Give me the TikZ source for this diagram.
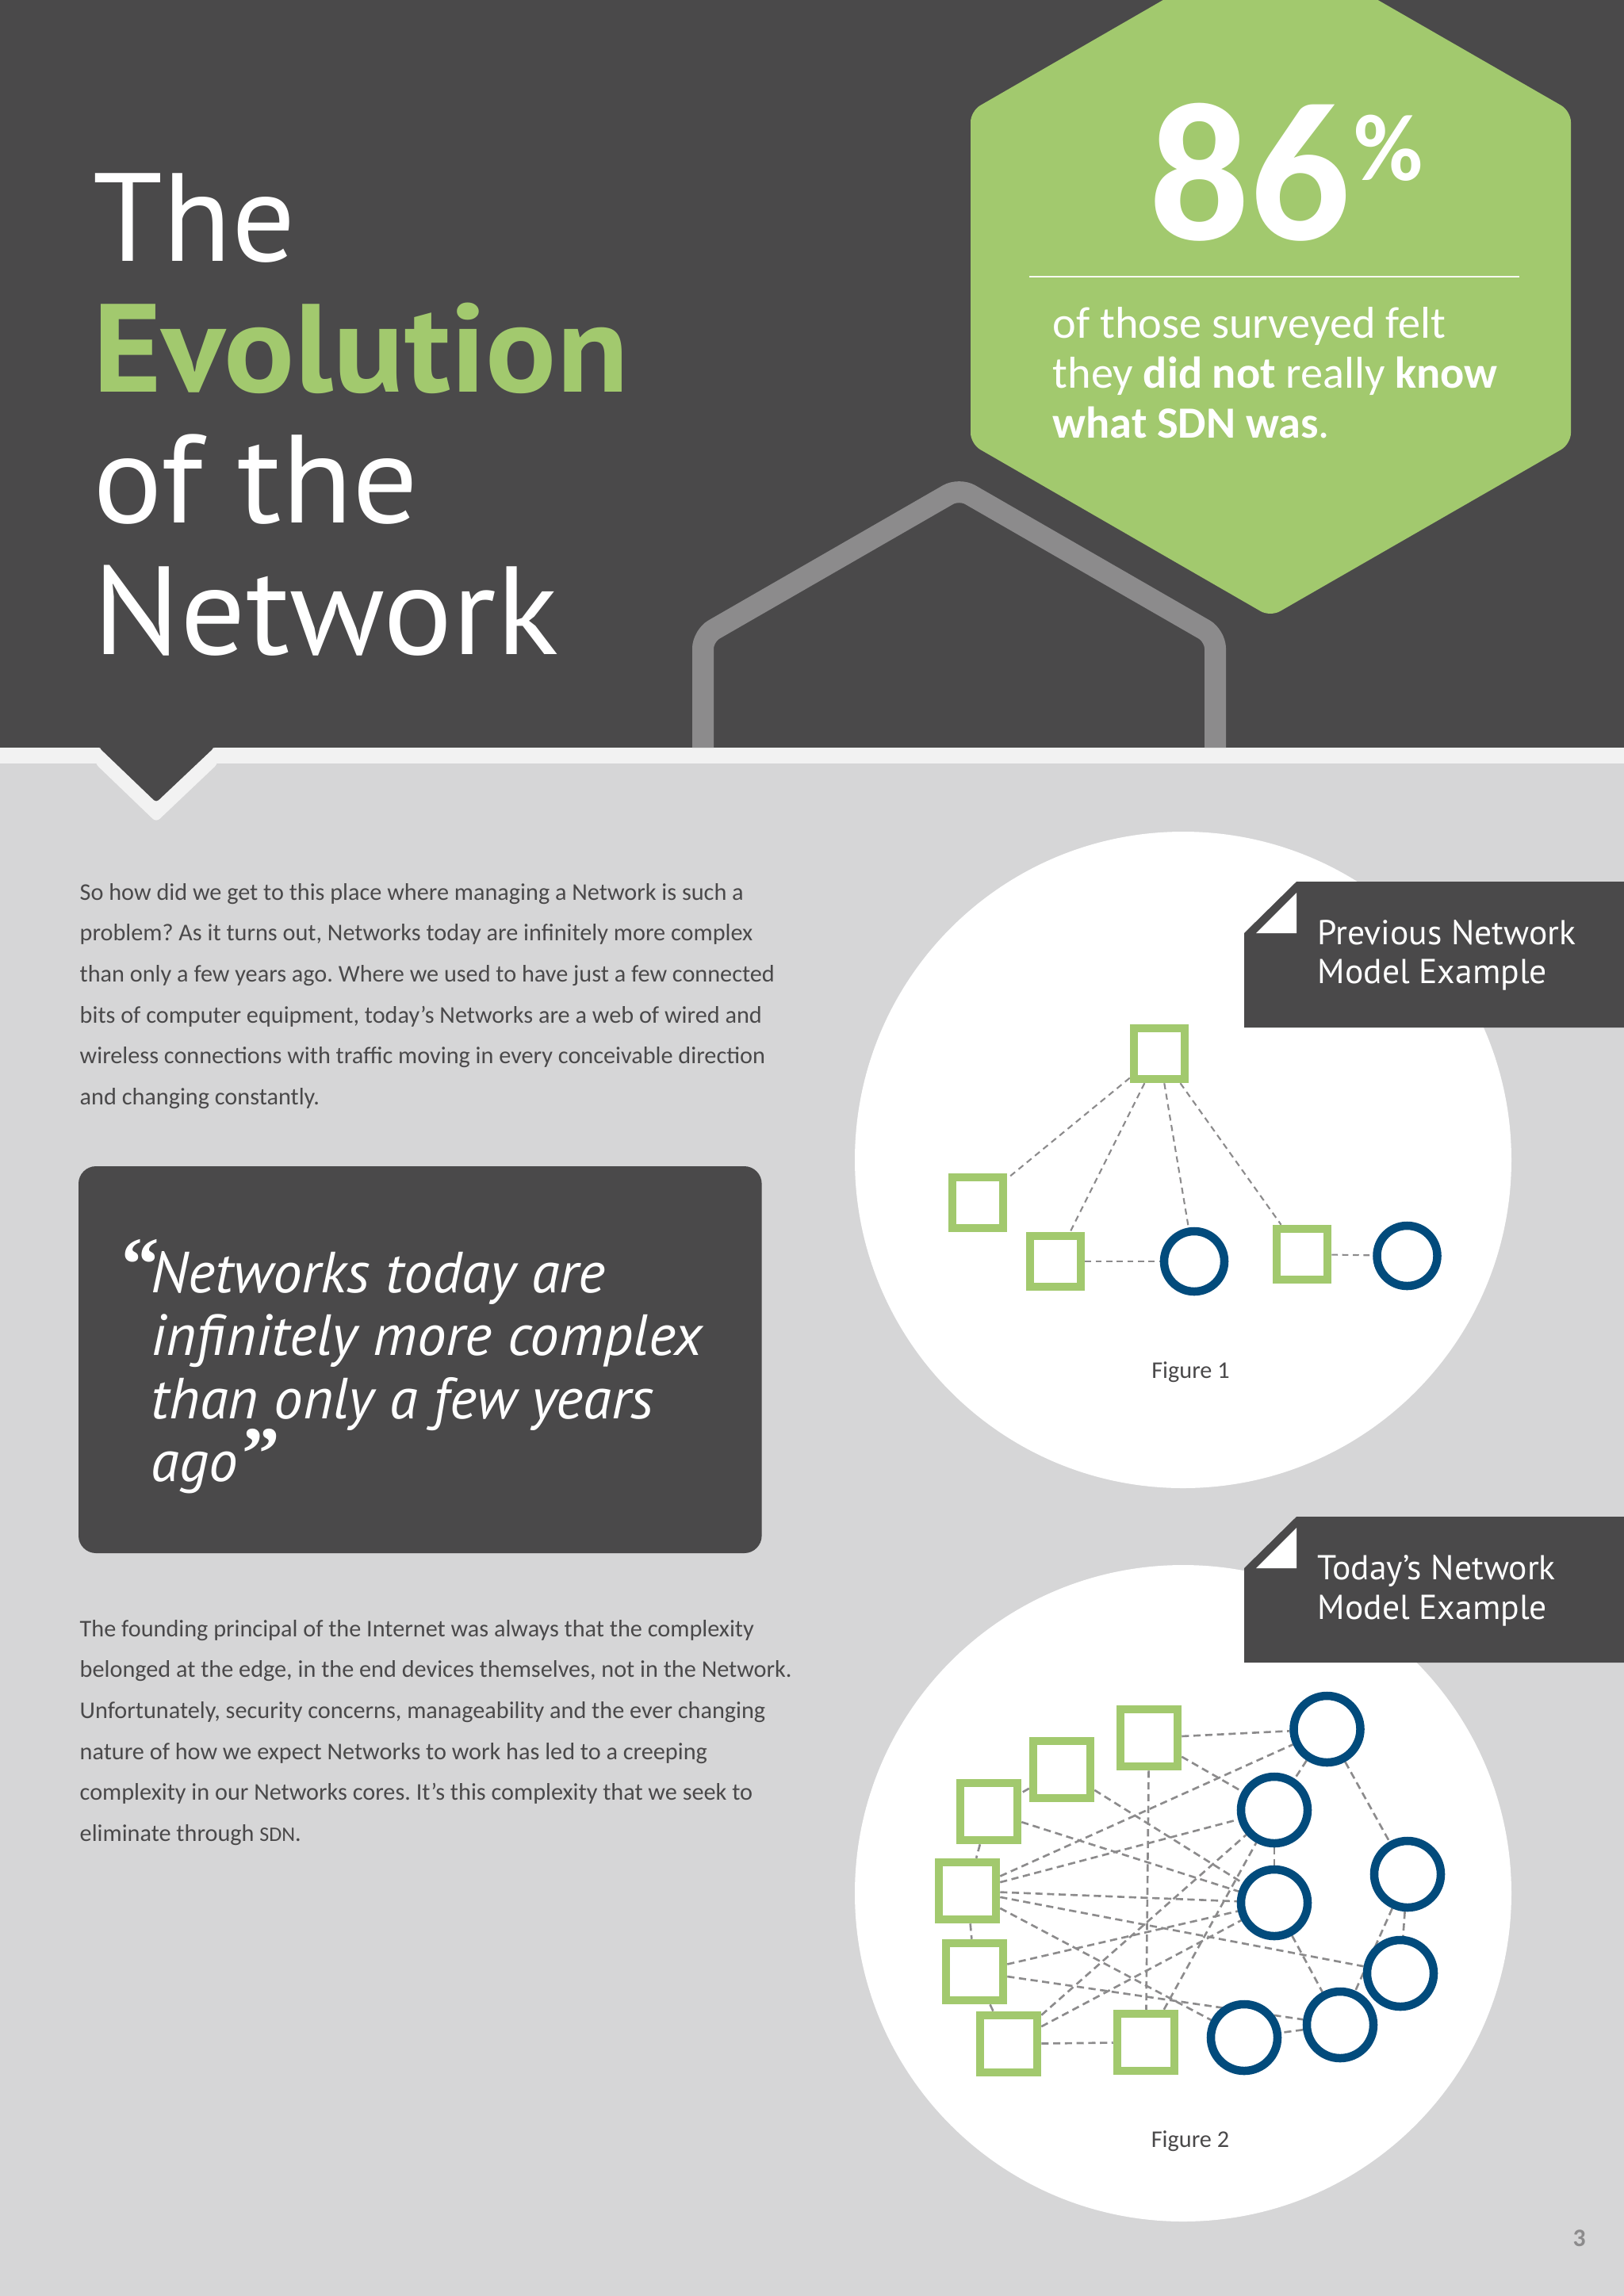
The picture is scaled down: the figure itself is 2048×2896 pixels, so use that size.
\documentclass[tikz,border=0pt]{standalone}
\usepackage{fontspec}
\setmainfont{Carlito}
\newfontfamily\ptsans{PT Sans}
\newfontfamily\quotefont{Liberation Serif}
\pgfdeclarelayer{nodes}
\pgfsetlayers{main,nodes}
\definecolor{slate}{HTML}{4A494A}
\definecolor{leaf}{HTML}{A2C96E}
\definecolor{navy}{HTML}{024B7C}
\definecolor{ash}{HTML}{8C8B8C}
\definecolor{pagebg}{HTML}{D6D6D7}
\definecolor{strip}{HTML}{F2F2F2}
\tikzset{
  txt/.style={inner sep=0pt, align=left, anchor=base west},
  para/.style={txt, text=slate, font=\frenchspacing\fontsize{8.6}{14.7}\selectfont},
  tagtxt/.style={txt, text=white, font=\ptsans\fontsize{12.4}{14.1}\selectfont},
  figtxt/.style={inner sep=0pt, anchor=base, text=slate, font=\fontsize{8.6}{10}\selectfont},
  sq/.style={draw=leaf, fill=white, rectangle, inner sep=0pt},
  sqa/.style={sq, line width=.105cm, minimum size=.64cm},
  sqb/.style={sq, line width=.105cm, minimum size=.72cm},
  circa/.style={draw=navy, fill=white, circle, inner sep=0pt, line width=.105cm, minimum size=.76cm},
  circb/.style={draw=navy, fill=white, circle, inner sep=0pt, line width=.105cm, minimum size=.84cm},
  wire/.style={draw=ash, line width=.6pt, dash pattern=on 2.2pt off 1.6pt},
  wireb/.style={draw=ash, line width=.75pt, dash pattern=on 2.6pt off 1.6pt}
}

\begin{document}
\begin{tikzpicture}[x=.01cm, y=-.01cm]
  \useasboundingbox (0,0) rectangle (2048,2896);
  % Page and header band
  \fill[pagebg] (0,0) rectangle (2048,2896);
  \fill[strip] (0,943) rectangle (2048,963);
  \fill[strip, rounded corners=.06cm] (120,950) -- (120,963) -- (197,1037) -- (275,963) -- (275,950) -- cycle;
  \fill[slate] (0,0) rectangle (2048,943);
  \fill[slate, rounded corners=.04cm] (125,940) -- (125,943) -- (197,1012) -- (270,943) -- (270,940) -- cycle;

  % Hexagons
  \draw[ash, line width=.27cm, rounded corners=.16cm] (886.5,943) -- (886.5,802) -- (1209.5,616) -- (1532.5,802) -- (1532.5,943);
  \fill[leaf, rounded corners=.14cm] (1602,-78) -- (1981,140) -- (1981,560) -- (1602,778) -- (1224,560) -- (1224,140) -- cycle;
  \draw[white!90!leaf, line width=.02cm] (1298,348.5) -- (1916,348.5);

  % Headline and figures
  \node[txt, text=white, font=\ptsans\fontsize{45}{46.94}\selectfont] (title) at (117,825) {The\\{\bfseries\color{leaf}\scalebox{1.05}[1]{Evolution}}\\\scalebox{1.035}[1]{of the}\\\scalebox{1.03}[1]{Network}};
  \node[txt, text=white, font=\bfseries\fontsize{71}{73}\selectfont] (big) at (1449,302) {86};
  \node[txt, text=white, font=\bfseries\fontsize{34}{36}\selectfont] (pct) at (1707,227) {\%};
  \node[txt, text=white, font=\fontsize{16}{17.8}\selectfont] (stat) at (1327,552) {of those surveyed felt\\they \textbf{did not} really \textbf{know}\\\textbf{what SDN was}.};

  % Body text
  \node[para] (intro) at (100,1393.5) {So how did we get to this place where managing a Network is such a\\problem? As it turns out, Networks today are infinitely more complex\\than only a few years ago. Where we used to have just a few connected\\bits of computer equipment, today’s Networks are a web of wired and\\wireless connections with traffic moving in every conceivable direction\\and changing constantly.};
  \node[para] (outro) at (100,2322.5) {The founding principal of the Internet was always that the complexity\\belonged at the edge, in the end devices themselves, not in the Network.\\Unfortunately, security concerns, manageability and the ever changing\\nature of how we expect Networks to work has led to a creeping\\complexity in our Networks cores. It’s this complexity that we seek to\\eliminate through {\fontsize{7.4}{14.7}\selectfont SDN}.};

  % Quote box
  \fill[slate, rounded corners=.22cm] (99,1471) rectangle (960.6,1959);
  \node[txt, text=white, font=\ptsans\itshape\fontsize{20.8}{22.6}\selectfont] (quote) at (190,1868.5) {Networks today are\\infinitely more complex\\than only a few years\\ago};
  \node[txt, text=white, font=\quotefont\bfseries\fontsize{27}{28}\selectfont] (qopen) at (153,1626) {“};
  \node[txt, text=white, font=\quotefont\bfseries\fontsize{27}{28}\selectfont] (qclose) at (305,1865) {”};

  % Circles behind the figures
  \fill[white] (1492,1463) circle (414);
  \fill[white] (1492,2388) circle (414);

  % Tags
  \foreach \y in {1112,1913}{
    \fill[slate] (1635,\y) -- (2048,\y) -- (2048,\y+184) -- (1569,\y+184) -- (1569,\y+65) -- cycle;
    \fill[white] (1584,\y+65) -- (1635,\y+65) -- (1635,\y+14) -- cycle;
  }
  \node[tagtxt] (tag1) at (1661,1240.6) {Previous Network\\Model Example};
  \node[tagtxt] (tag2) at (1661,2042) {Today’s Network\\Model Example};

  % Figure 1
  \begin{pgfonlayer}{nodes}
    \foreach \n/\x/\y in {p1/1462/1329, p2/1233/1517, p3/1331/1591, p4/1642/1582}
      \node[sqa] (\n) at (\x,\y) {};
    \foreach \n/\x/\y in {q1/1506/1591, q2/1774.5/1584}
      \node[circa] (\n) at (\x,\y) {};
  \end{pgfonlayer}
  \foreach \a/\b in {p1/p2, p1/p3, p1/q1, p1/p4, p3/q1, p4/q2}
    \draw[wire] (\a) -- (\b);
  \node[figtxt] (fig1) at (1501.5,1738) {Figure 1};

  % Figure 2
  \begin{pgfonlayer}{nodes}
    \foreach \n/\x/\y in {s1/1449/2192, s2/1339/2232, s3/1247/2285, s4/1220/2385, s5/1229/2487, s6/1272/2578, s7/1445/2576}
      \node[sqb] (\n) at (\x,\y) {};
    \foreach \n/\x/\y in {c1/1673.5/2181, c2/1607/2283, c3/1607/2400, c4/1775/2364, c5/1766/2489, c6/1690/2554, c7/1569/2570}
      \node[circb] (\n) at (\x,\y) {};
  \end{pgfonlayer}
  \foreach \a/\b in {s1/c1, s1/c2, s1/s7, c1/c2, c1/c4, s4/c1, s4/c2, s4/c3, s4/c5, s4/c7, s3/s4, s4/s5, s5/s6, s2/s3, s2/c3, s3/c3, c2/c3, c3/c6, c4/c5, c4/c6, c6/c7, s5/c3, s5/c6, s6/c2, s6/c3, s6/s7, s7/c2}
    \draw[wireb] (\a) -- (\b);
  \node[figtxt] (fig2) at (1501,2708) {Figure 2};

  % Page number
  \node[txt, text=ash, font=\bfseries\fontsize{9}{10}\selectfont] (pageno) at (1983,2833) {3};
\end{tikzpicture}
\end{document}
